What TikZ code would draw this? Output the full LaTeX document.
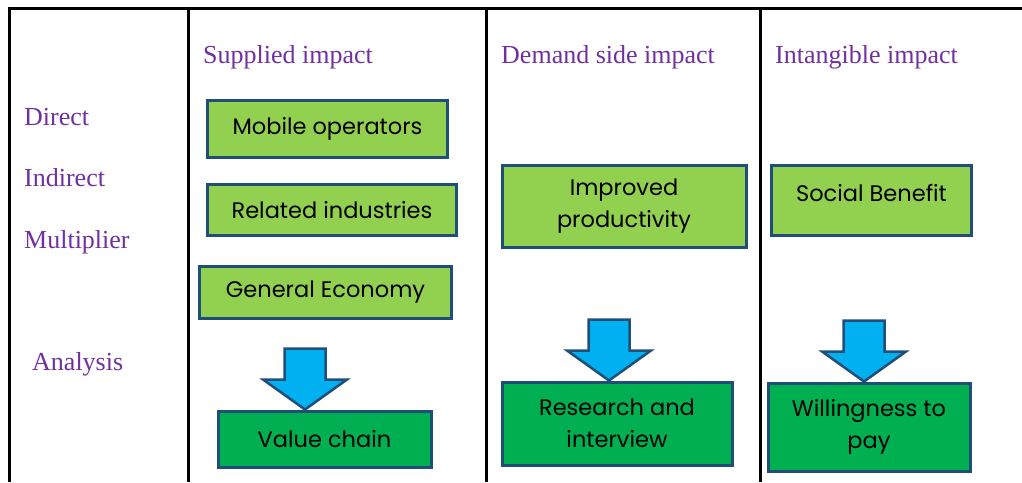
\documentclass[tikz,border=0pt]{standalone}
\usepackage{fontspec}
\setmainfont{Liberation Serif}
\newfontfamily\gothicfont{Poppins}
\definecolor{hdrpurple}{HTML}{7030A0}
\definecolor{lgreen}{HTML}{92D050}
\definecolor{dgreen}{HTML}{00B050}
\definecolor{boxblue}{HTML}{1F4E79}
\definecolor{arrblue}{HTML}{00B0F0}
\begin{document}
\begin{tikzpicture}[x=1pt,y=-1pt,
  grid/.style={line width=3pt, black, line join=miter},
  hdr/.style={text=hdrpurple, font=\fontsize{26}{30}\selectfont, anchor=base west, inner sep=0pt},
  gbox/.style={draw=boxblue, line width=3pt, align=center, inner sep=0pt,
    font=\gothicfont\fontsize{22.5}{32}\selectfont},
  lbox/.style={gbox, fill=lgreen},
  dbox/.style={gbox, fill=dgreen},
  downarrow/.pic={\draw[draw=boxblue, fill=arrblue, line width=2.5pt, line join=miter]
     (0,0) -- (-42,-30) -- (-20.5,-30) -- (-20.5,-61) -- (20.5,-61) -- (20.5,-30) -- (42,-30) -- cycle;}
]
\useasboundingbox (0,0) rectangle (1022,482);
% table lines
\draw[grid] (9.5,482) -- (9.5,8) -- (1022,8);
\draw[grid] (188.5,8) -- (188.5,482);
\draw[grid] (486,8) -- (486,482);
\draw[grid] (760,8) -- (760,482);
% headers
\node[hdr] (h1) at (203,63) {Supplied impact};
\node[hdr] (h2) at (501,63) {Demand side impact};
\node[hdr] (h3) at (775,63) {Intangible impact};
% row labels
\node[hdr] (r1) at (24,125) {Direct};
\node[hdr] (r2) at (24,186) {Indirect};
\node[hdr] (r3) at (24,248) {Multiplier};
\node[hdr] (r4) at (32,370) {Analysis};
% boxes
\node[lbox, minimum width=240pt, minimum height=57pt] (mob) at (327.5,129) {Mobile operators};
\node[lbox, minimum width=249pt, minimum height=51pt] (rel) at (332,210) {Related industries};
\node[lbox, minimum width=252pt, minimum height=52pt] (gen) at (325.5,292.5) {General Economy};
\node[dbox, minimum width=213pt, minimum height=56pt] (val) at (324.5,439) {Value chain};
\node[lbox, minimum width=244pt, minimum height=82pt] (imp) at (624,206) {Improved\\productivity};
\node[dbox, minimum width=230pt, minimum height=83pt] (res) at (617,423.5) {Research and\\interview};
\node[lbox, minimum width=200pt, minimum height=70pt] (soc) at (871.5,200.5) {\raisebox{7pt}[\height][\depth]{Social Benefit}};
\node[dbox, minimum width=202pt, minimum height=88pt] (wil) at (869,427) {Willingness to\\pay};
% block arrows
\pic at ([xshift=-19.5pt]val.north) {downarrow};
\pic at ([xshift=-8pt]res.north) {downarrow};
\pic at ([xshift=-5pt]wil.north) {downarrow};
\end{tikzpicture}
\end{document}
